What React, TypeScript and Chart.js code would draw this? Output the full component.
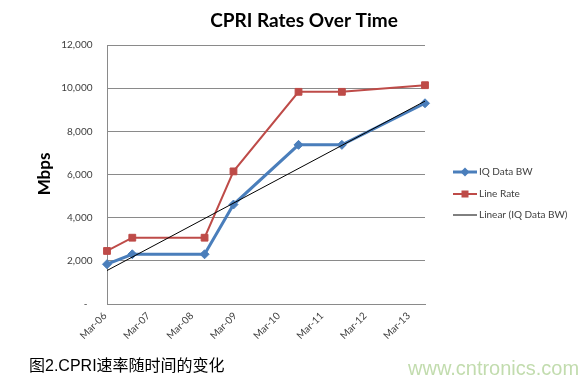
import React, { useEffect, useRef } from 'react';
import { Chart, registerables } from 'chart.js';

Chart.register(...registerables);

// ---- text ----
const chartTitle = 'CPRI Rates Over Time';
const yAxisTitle = 'Mbps';
const captionText = '图2.CPRI速率随时间的变化';
const watermarkText = 'www.cntronics.com';
const seriesNames = ['IQ Data BW', 'Line Rate', 'Linear (IQ Data BW)'];

// ---- axes ----
const xTickLabels = ['Mar-06', 'Mar-07', 'Mar-08', 'Mar-09', 'Mar-10', 'Mar-11', 'Mar-12', 'Mar-13'];
const axisStartDate = '2006-03';
const axisEndDate = '2013-07';
const yMin = 0;
const yMax = 12000;
const yStep = 2000;

// ---- data ----
const pointDates = ['2006-03', '2006-10', '2008-06', '2009-02', '2010-08', '2011-08', '2013-07'];
const iqDataBW = [1843.2, 2304, 2304, 4608, 7372.8, 7372.8, 9300];
const lineRate = [2457.6, 3072, 3072, 6144, 9830.4, 9830.4, 10137.6];
const trendDates = ['2006-03', '2013-07'];
const trendValues = [1550, 9400];

const BLUE = '#4A7EBB';
const RED = '#BE4B48';
const TEXT = '#404040';
const GRID = '#8a8a8a';

function monthOffset(d: string): number {
  const [y, m] = d.split('-').map(Number);
  const [y0, m0] = axisStartDate.split('-').map(Number);
  return (y - y0) * 12 + (m - m0);
}

const overlayPlugin = {
  id: 'overlay',
  afterDraw(chart: any) {
    const ctx = chart.ctx as CanvasRenderingContext2D;
    ctx.save();
    // title
    ctx.fillStyle = '#000';
    ctx.font = 'bold 19px Lato';
    ctx.textAlign = 'center';
    ctx.textBaseline = 'alphabetic';
    ctx.fillText(chartTitle, 304, 27);
    // y axis title
    ctx.save();
    ctx.translate(45, 174);
    ctx.rotate(-Math.PI / 2);
    ctx.font = 'bold 17px Lato';
    ctx.textBaseline = 'middle';
    ctx.fillText(yAxisTitle, 0, 0);
    ctx.restore();
    // legend
    const items = [
      { y: 172, color: BLUE, width: 3, marker: 'diamond' },
      { y: 194, color: RED, width: 2, marker: 'square' },
      { y: 215, color: '#000', width: 1, marker: 'none' },
    ];
    items.forEach((it, i) => {
      ctx.strokeStyle = it.color;
      ctx.lineWidth = it.width;
      ctx.beginPath();
      ctx.moveTo(453, it.y);
      ctx.lineTo(477, it.y);
      ctx.stroke();
      ctx.fillStyle = it.color;
      if (it.marker === 'diamond') {
        ctx.beginPath();
        ctx.moveTo(465, it.y - 4.5);
        ctx.lineTo(469.5, it.y);
        ctx.lineTo(465, it.y + 4.5);
        ctx.lineTo(460.5, it.y);
        ctx.closePath();
        ctx.fill();
      } else if (it.marker === 'square') {
        ctx.fillRect(461.5, it.y - 3.5, 7, 7);
      }
      ctx.fillStyle = TEXT;
      ctx.font = '10px Lato';
      ctx.textAlign = 'left';
      ctx.textBaseline = 'middle';
      ctx.fillText(seriesNames[i], 479, it.y);
    });
    ctx.restore();
  },
};

export default function App() {
  const canvasRef = useRef<HTMLCanvasElement | null>(null);

  useEffect(() => {
    if (!canvasRef.current) return;
    const iqPoints = pointDates.map((d, i) => ({ x: monthOffset(d), y: iqDataBW[i] }));
    const lrPoints = pointDates.map((d, i) => ({ x: monthOffset(d), y: lineRate[i] }));
    const trPoints = trendDates.map((d, i) => ({ x: monthOffset(d), y: trendValues[i] }));

    const chart = new Chart(canvasRef.current, {
      type: 'line',
      data: {
        datasets: [
          {
            label: seriesNames[2],
            data: trPoints,
            borderColor: '#000',
            borderWidth: 1,
            pointRadius: 0,
            order: 0,
            clip: false,
          },
          {
            label: seriesNames[0],
            data: iqPoints,
            borderColor: BLUE,
            backgroundColor: BLUE,
            borderWidth: 3,
            pointStyle: 'rectRot',
            pointRadius: 4.5,
            pointBorderWidth: 1,
            order: 1,
            clip: false,
          },
          {
            label: seriesNames[1],
            data: lrPoints,
            borderColor: RED,
            backgroundColor: RED,
            borderWidth: 2,
            pointStyle: 'rect',
            pointRadius: 4.8,
            pointBorderWidth: 1,
            order: 2,
            clip: false,
          },
        ],
      },
      options: {
        responsive: false,
        animation: false,
        devicePixelRatio: 1,
        layout: { padding: { top: 45, right: 155, left: 0, bottom: 0 } },
        plugins: {
          legend: { display: false },
          title: { display: false },
          tooltip: { enabled: false },
        },
        scales: {
          x: {
            type: 'linear',
            min: 0,
            max: monthOffset(axisEndDate),
            grid: { display: false, drawTicks: false },
            border: { display: true, color: GRID, width: 1 },
            ticks: {
              stepSize: 12,
              includeBounds: false,
              autoSkip: false,
              minRotation: 45,
              maxRotation: 45,
              padding: 6,
              labelOffset: -2,
              color: TEXT,
              font: { family: 'Lato', size: 10 },
              callback: (v: any) => (Number(v) % 12 === 0 ? xTickLabels[Number(v) / 12] ?? '' : ''),
            },
            afterFit: (s: any) => {
              s.height = 78;
            },
          },
          y: {
            min: yMin,
            max: yMax,
            grid: { color: GRID, lineWidth: 1, drawTicks: false },
            border: { display: true, color: GRID, width: 1 },
            ticks: {
              stepSize: yStep,
              padding: 14.5,
              color: TEXT,
              font: { family: 'Lato', size: 10 },
              callback: (v: any) => (Number(v) === 0 ? '-  ' : Number(v).toLocaleString('en-US')),
            },
            afterFit: (s: any) => {
              s.width = 107;
            },
          },
        },
      },
      plugins: [overlayPlugin],
    });
    return () => chart.destroy();
  }, []);

  return (
    <div style={{ position: 'absolute', left: 0, top: 0, width: 580, height: 382, background: '#fff', overflow: 'hidden' }}>
      <canvas ref={canvasRef} width={580} height={382} style={{ position: 'absolute', left: 0, top: 0, width: 580, height: 382 }} />
      <div
        style={{
          position: 'absolute',
          left: 29,
          top: 357.5,
          fontFamily: '"Liberation Sans", "Noto Sans CJK SC", sans-serif',
          fontSize: 16,
          lineHeight: '16px',
          color: '#000',
          whiteSpace: 'nowrap',
        }}
      >
        {captionText}
      </div>
      <div
        style={{
          position: 'absolute',
          left: 408,
          top: 358,
          fontFamily: '"Liberation Sans", sans-serif',
          fontSize: 20,
          lineHeight: '20px',
          color: '#c2dcae',
          whiteSpace: 'nowrap',
        }}
      >
        {watermarkText}
      </div>
    </div>
  );
}
